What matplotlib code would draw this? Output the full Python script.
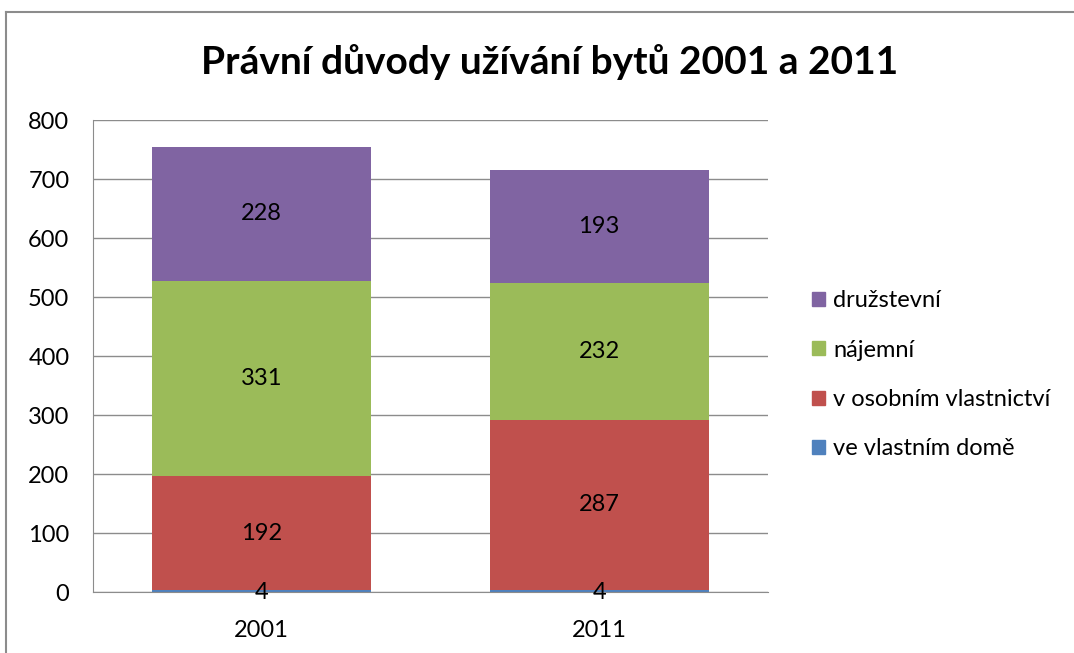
import matplotlib.pyplot as plt
from matplotlib.lines import Line2D
from matplotlib.patches import Patch

plt.rcParams['font.family'] = ['Lato', 'DejaVu Sans']

years = ['2001', '2011']
series = ['ve vlastním domě', 'v osobním vlastnictví', 'nájemní', 'družstevní']
values = {
    've vlastním domě': [4, 4],
    'v osobním vlastnictví': [192, 287],
    'nájemní': [331, 232],
    'družstevní': [228, 193],
}
colors = ['#4F81BD', '#C0504D', '#9BBB59', '#8064A2']

fig = plt.figure(figsize=(10.74, 6.53), dpi=100)
ax = fig.add_axes([0.0866, 0.0934, 0.6284, 0.7228])

x = range(len(years))
bottom = [0, 0]
for name, col in zip(series, colors):
    vals = values[name]
    ax.bar(x, vals, width=0.65, bottom=bottom, color=col, zorder=2)
    for i, v in enumerate(vals):
        ypos = bottom[i] + v / 2
        if v < 20:
            ypos = -1
        ax.text(i, ypos, str(v), ha='center', va='center', fontsize=17, color='black', zorder=3)
    bottom = [b + v for b, v in zip(bottom, vals)]

ax.set_xlim(-0.5, 1.5)
ax.set_ylim(0, 800)
ax.set_yticks(range(0, 801, 100))
ax.set_xticks(list(x))
ax.set_xticklabels(years)
ax.yaxis.grid(True, color='#8c8c8c', linewidth=1)
ax.set_axisbelow(True)
for s in ['top', 'right']:
    ax.spines[s].set_visible(False)
ax.spines['left'].set_color('#8c8c8c')
ax.spines['bottom'].set_color('#8c8c8c')
ax.tick_params(axis='both', labelsize=17, length=0)
ax.tick_params(axis='y', pad=17)
ax.tick_params(axis='x', pad=20)

fig.text(0.512, 0.905, 'Právní důvody užívání bytů 2001 a 2011', ha='center', va='center',
         fontsize=28, fontweight='bold')

handles = [Patch(color=c) for c in colors][::-1]
fig.legend(handles, series[::-1], loc='center left', bbox_to_anchor=(0.736, 0.426),
           frameon=False, fontsize=17, handlelength=0.55, handleheight=0.55,
           handletextpad=0.35, labelspacing=1.2)

# chart frame
fig.add_artist(Line2D([0.006, 0.006], [0, 0.981], color='#8c8c8c', linewidth=1.5))
fig.add_artist(Line2D([0.006, 1.0], [0.981, 0.981], color='#8c8c8c', linewidth=1.5))

fig.savefig('out.png', dpi=100)
